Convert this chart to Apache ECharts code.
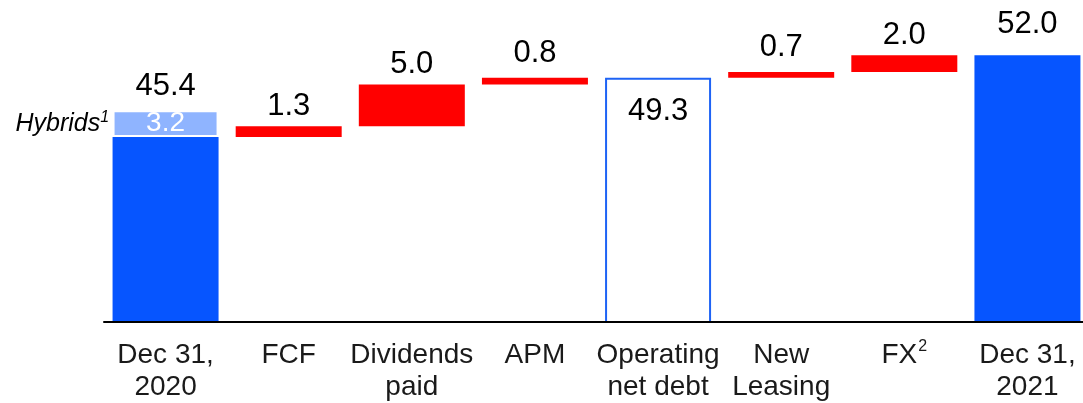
<!DOCTYPE html>
<html>
<head>
<meta charset="utf-8">
<script src="https://cdn.jsdelivr.net/npm/echarts@6/dist/echarts.min.js"></script>
<style>
html,body{margin:0;padding:0;background:#fff;}
#chart{width:1083px;height:403px;}
</style>
</head>
<body>
<div id="chart"></div>
<script>
// ---- data ----
const categories = ['Dec 31,\n2020', 'FCF', 'Dividends\npaid', 'APM', 'Operating\nnet debt', 'New\nLeasing', 'FX{sup|2}', 'Dec 31,\n2021'];
const openingTotal = 45.4;
const hybrids = 3.2;
const changeValues = [null, 1.3, 5.0, 0.8, null, 0.7, 2.0, null];
const subtotalValues = [null, null, null, null, 49.3, null, null, null];
const closingValues = [null, null, null, null, null, null, null, 52.0];
const hybridsLabel = 'Hybrids';
const hybridsNote = '1';

// label gaps (style only) per category index
const labelGap = [8, 4, 5, 9, 4, 9, 4, 15];

// ---- derived series for the waterfall ----
const coreOpening = +(openingTotal - hybrids).toFixed(1);
const baseData = [], coreData = [], hybridData = [], changeData = [], subtotalData = [];
let running = coreOpening;
categories.forEach((c, i) => {
  if (i === 0) {
    baseData.push('-'); coreData.push(coreOpening); hybridData.push(hybrids);
    changeData.push('-'); subtotalData.push('-');
  } else if (changeValues[i] != null) {
    baseData.push(+running.toFixed(1)); coreData.push('-'); hybridData.push('-');
    changeData.push({value: changeValues[i], label: {distance: labelGap[i]}}); subtotalData.push('-');
    running += changeValues[i];
  } else if (subtotalValues[i] != null) {
    baseData.push('-'); coreData.push('-'); hybridData.push('-');
    changeData.push('-'); subtotalData.push(subtotalValues[i]);
    running = subtotalValues[i];
  } else {
    baseData.push('-'); coreData.push({value: closingValues[i], label: {distance: labelGap[i]}}); hybridData.push('-');
    changeData.push('-'); subtotalData.push('-');
  }
});

const FONT = '"Liberation Sans", Arial, sans-serif';
const chart = echarts.init(document.getElementById('chart'), null, {renderer: 'canvas'});
const valueLabel = {show: true, position: 'top', distance: 4, color: '#000', fontSize: 31, fontFamily: FONT};

chart.setOption({
  animation: false,
  backgroundColor: '#fff',
  grid: {left: 104, top: 22, width: 985, height: 300, containLabel: false, outerBoundsMode: 'none'},
  xAxis: {
    type: 'category',
    data: categories,
    z: 10,
    axisLine: {show: true, lineStyle: {color: '#000', width: 2}},
    axisTick: {show: false},
    axisLabel: {
      interval: 0, margin: 17, color: '#1a1a1a', fontSize: 28, lineHeight: 32, fontFamily: FONT,
      rich: {sup: {fontSize: 16, verticalAlign: 'top', lineHeight: 32, fontFamily: FONT, color: '#1a1a1a', padding: [0, 0, 6, 1]}}
    }
  },
  yAxis: {type: 'value', min: 20, max: 56, show: false, splitLine: {show: false}},
  series: [
    {name: 'base', type: 'bar', stack: 'wf', barWidth: 106, data: baseData,
     itemStyle: {color: 'rgba(0,0,0,0)'}, silent: true},
    {name: 'total', type: 'bar', stack: 'wf', barWidth: 106, data: coreData,
     itemStyle: {color: '#0655FF'},
     label: Object.assign({}, valueLabel, {formatter: p => p.dataIndex === 0 ? '' : p.value.toFixed(1)})},
    {name: 'hybrids', type: 'bar', stack: 'wf', barWidth: 106, data: hybridData,
     itemStyle: {color: '#8FB4FF', borderColor: '#fff', borderWidth: 2},
     label: {show: true, position: 'inside', color: '#fff', fontSize: 28, fontFamily: FONT, formatter: p => p.value.toFixed(1)}},
    {name: 'change', type: 'bar', stack: 'wf', barWidth: 106, data: changeData,
     itemStyle: {color: '#FF0000'},
     label: Object.assign({}, valueLabel, {formatter: p => p.value.toFixed(1)})},
    {name: 'subtotal', type: 'bar', stack: 'wf', barWidth: 106, data: subtotalData,
     itemStyle: {color: '#fff', borderColor: '#1E63F5', borderWidth: 2},
     label: {show: true, position: 'insideTop', distance: 18, color: '#000', fontSize: 31, fontFamily: FONT, formatter: p => p.value.toFixed(1)}},
    {name: 'annotations', type: 'scatter', symbolSize: 1, itemStyle: {color: 'rgba(0,0,0,0)', opacity: 1}, z: 5,
     data: [
       {value: [0, openingTotal], label: Object.assign({}, valueLabel, {formatter: openingTotal.toFixed(1), distance: labelGap[0]})},
       {value: [0, coreOpening + hybrids / 2], label: {show: true, position: 'left', distance: 56,
         formatter: '{i|' + hybridsLabel + '}{s|' + hybridsNote + '}',
         rich: {i: {fontSize: 25, fontStyle: 'italic', color: '#000', fontFamily: FONT, lineHeight: 28},
                s: {fontSize: 16, fontStyle: 'italic', color: '#000', fontFamily: FONT, verticalAlign: 'top', lineHeight: 28}}}}
     ]}
  ]
});
</script>
</body>
</html>
